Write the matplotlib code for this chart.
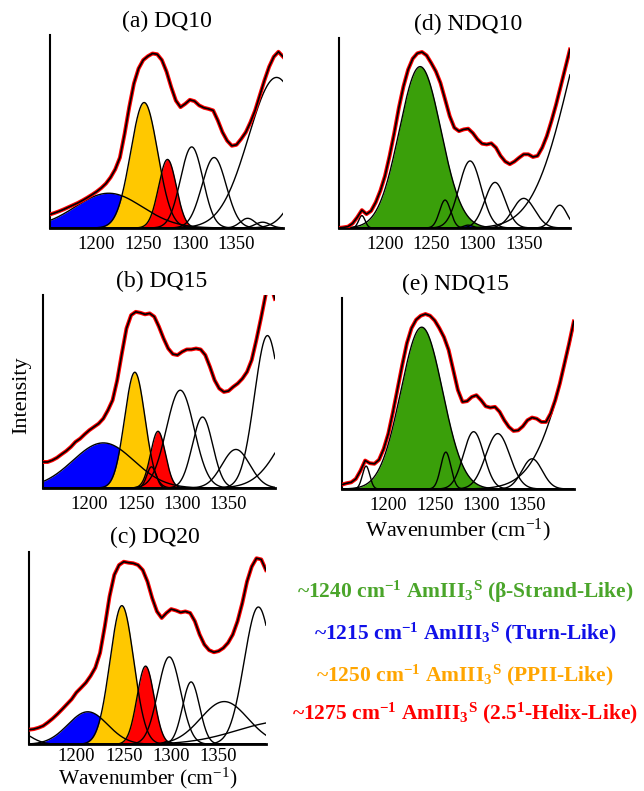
import numpy as np
import matplotlib
matplotlib.use("Agg")
import matplotlib.pyplot as plt

plt.rcParams['font.family'] = ['Liberation Serif', 'DejaVu Serif']
plt.rcParams['mathtext.fontset'] = 'custom'
plt.rcParams['mathtext.rm'] = 'Liberation Serif'
plt.rcParams['mathtext.it'] = 'Liberation Serif:italic'
plt.rcParams['mathtext.bf'] = 'Liberation Serif:bold'

# wavenumber grid the measured / fitted spectra were read at (every 5 cm-1)
wn = np.arange(1150, 1401, 5)

# fitted envelopes (normalised intensity)
fit_a = [0.07, 0.078, 0.087, 0.097, 0.108, 0.119, 0.13, 0.143, 0.157, 0.172, 0.188, 0.207,
         0.23, 0.262, 0.304, 0.365, 0.487, 0.626, 0.748, 0.826, 0.87, 0.89, 0.904, 0.90,
         0.87, 0.81, 0.73, 0.66, 0.626, 0.643, 0.664, 0.657, 0.635, 0.623, 0.617, 0.609,
         0.557, 0.496, 0.452, 0.426, 0.431, 0.461, 0.496, 0.548, 0.609, 0.687, 0.765,
         0.835, 0.887, 0.913, 0.887]
fit_b = [0.135, 0.135, 0.144, 0.157, 0.175, 0.192, 0.213, 0.239, 0.256, 0.279, 0.30, 0.317,
         0.334, 0.36, 0.403, 0.455, 0.559, 0.697, 0.827, 0.896, 0.913, 0.908, 0.90, 0.905,
         0.888, 0.836, 0.775, 0.723, 0.694, 0.689, 0.706, 0.718, 0.718, 0.723, 0.718,
         0.689, 0.628, 0.559, 0.516, 0.498, 0.503, 0.524, 0.542, 0.567, 0.602, 0.663,
         0.766, 0.879, 1.0, 1.06, 0.98]
fit_c = [0.076, 0.079, 0.086, 0.096, 0.114, 0.134, 0.157, 0.182, 0.208, 0.234, 0.269, 0.294,
         0.32, 0.355, 0.398, 0.475, 0.613, 0.768, 0.88, 0.931, 0.948, 0.943, 0.94, 0.931,
         0.905, 0.845, 0.759, 0.69, 0.656, 0.682, 0.702, 0.695, 0.685, 0.69, 0.682, 0.639,
         0.57, 0.518, 0.489, 0.478, 0.484, 0.50, 0.527, 0.57, 0.639, 0.733, 0.845, 0.923,
         0.966, 0.96, 0.905]
fit_d = [0.0, 0.003, 0.007, 0.024, 0.056, 0.094, 0.073, 0.09, 0.135, 0.196, 0.274, 0.38,
         0.50, 0.633, 0.746, 0.834, 0.892, 0.92, 0.927, 0.909, 0.869, 0.825, 0.764, 0.677,
         0.589, 0.528, 0.51, 0.519, 0.523, 0.50, 0.467, 0.444, 0.44, 0.446, 0.423, 0.38,
         0.35, 0.336, 0.35, 0.37, 0.388, 0.388, 0.374, 0.38, 0.423, 0.484, 0.563, 0.65,
         0.746, 0.843, 0.94]
fit_e = [0.023, 0.03, 0.035, 0.053, 0.096, 0.149, 0.135, 0.132, 0.153, 0.21, 0.29, 0.403,
         0.526, 0.649, 0.763, 0.842, 0.886, 0.907, 0.916, 0.907, 0.882, 0.842, 0.795, 0.728,
         0.623, 0.518, 0.456, 0.46, 0.482, 0.491, 0.465, 0.433, 0.426, 0.43, 0.404, 0.36,
         0.325, 0.304, 0.307, 0.328, 0.36, 0.374, 0.368, 0.351, 0.351, 0.395, 0.465, 0.553,
         0.658, 0.763, 0.877]

# fitted component bands: (centre cm-1, height, sigma cm-1, fill colour or None)
BLUE, GOLD, RED, GREEN = '#0000ff', '#ffc800', '#ff0000', '#3a9f0a'
bands_a = [(1213, 0.18, 36, BLUE), (1251, 0.65, 14.5, GOLD), (1276, 0.355, 9.5, RED),
           (1302, 0.42, 12, None), (1326, 0.365, 13, None), (1362, 0.05, 8, None),
           (1378, 0.03, 8, None), (1393, 0.78, 30, None), (1435, 0.35, 20, None)]
bands_b = [(1215, 0.234, 33, BLUE), (1249, 0.60, 11, GOLD), (1274, 0.294, 8, RED),
           (1267, 0.11, 5, None), (1298, 0.507, 15, None), (1322, 0.368, 11, None),
           (1358, 0.20, 15, None), (1392, 0.79, 14, None), (1440, 0.44, 30, None)]
bands_c = [(1135, 0.074, 15, None), (1212, 0.169, 21, BLUE), (1248, 0.72, 12.5, GOLD),
           (1273, 0.406, 9, RED), (1296, 0.015, 4, GOLD), (1298, 0.454, 12, None),
           (1321, 0.324, 9, None), (1356, 0.222, 25, None), (1392, 0.713, 15, None),
           (1420, 0.12, 50, None)]
bands_d = [(1175, 0.065, 3.5, None), (1238, 0.85, 22.5, GREEN), (1265, 0.147, 6, None),
           (1290, 0.015, 5, BLUE), (1292, 0.353, 12, None), (1319, 0.24, 11, None),
           (1350, 0.156, 12, None), (1389, 0.12, 8, None), (1440, 1.33, 40, None)]
bands_e = [(1176, 0.12, 4, None), (1236, 0.847, 22.5, GREEN), (1262, 0.193, 5.5, None),
           (1292, 0.30, 11, None), (1318, 0.29, 13, None), (1355, 0.158, 11, None),
           (1440, 1.41, 40, None)]

titles = ['(a) DQ10', '(b) DQ15', '(c) DQ20', '(d) NDQ10', '(e) NDQ15']
title_x = [0.5, 0.51, 0.53, 0.56, 0.49]
fits = [fit_a, fit_b, fit_c, fit_d, fit_e]
bands = [bands_a, bands_b, bands_c, bands_d, bands_e]
# axes boxes [left, bottom, width, height] in figure fraction
boxes = [[0.0776, 0.7118, 0.362, 0.244],
         [0.0668, 0.383, 0.360, 0.244],
         [0.045, 0.059, 0.368, 0.2435],
         [0.526, 0.7118, 0.359, 0.240],
         [0.531, 0.3818, 0.360, 0.2415]]
tick_pad = [6, 6, 3, 6, 6]
xlabel_on = [False, False, True, False, True]

legend_lines = [
    (r'~1240 cm$^{\mathbf{-1}}$ AmIII$_{\mathbf{3}}$$^{\mathbf{S}}$ (β-Strand-Like)', '#4aa52a'),
    (r'~1215 cm$^{\mathbf{-1}}$ AmIII$_{\mathbf{3}}$$^{\mathbf{S}}$ (Turn-Like)', '#1010e8'),
    (r'~1250 cm$^{\mathbf{-1}}$ AmIII$_{\mathbf{3}}$$^{\mathbf{S}}$ (PPII-Like)', '#ffa500'),
    (r'~1275 cm$^{\mathbf{-1}}$ AmIII$_{\mathbf{3}}$$^{\mathbf{S}}$ (2.5$^{\mathbf{1}}$-Helix-Like)', '#ff0000'),
]
legend_y = [0.2516, 0.1997, 0.1466, 0.0986]


def gauss(x, c, h, s):
    return h * np.exp(-(x - c) ** 2 / (2 * s ** 2))


fig = plt.figure(figsize=(6.44, 7.91), dpi=100)
x = np.linspace(1150, 1400, 600)

for i, (title, fit, bl, box) in enumerate(zip(titles, fits, bands, boxes)):
    ax = fig.add_axes(box)
    # coloured bands first, later ones on top
    for c, h, s, col in bl:
        if col is not None:
            ax.fill_between(x, 0, gauss(x, c, h, s), color=col, lw=0, zorder=1)
    for c, h, s, col in bl:
        ax.plot(x, gauss(x, c, h, s), color='black', lw=1.0, zorder=2)
    ax.plot(wn, fit, color='red', lw=2.8, zorder=3, solid_joinstyle='round')
    ax.plot(wn, fit, color='black', lw=1.2, zorder=4)

    ax.set_xlim(1150, 1400)
    ax.set_ylim(0, 1)
    ax.set_xticks([1200, 1250, 1300, 1350])
    ax.set_yticks([])
    ax.tick_params(axis='x', length=0, pad=tick_pad[i], labelsize=13.5)
    for side in ['top', 'right']:
        ax.spines[side].set_visible(False)
    ax.spines['bottom'].set_linewidth(2.0)
    ax.spines['left'].set_linewidth(1.5)
    ax.set_title(title, fontsize=17, pad=6, x=title_x[i])
    if xlabel_on[i]:
        ax.set_xlabel('Wavenumber (cm$^{-1}$)', fontsize=16 if i == 4 else 15.5,
                      labelpad=2 if i == 4 else 0)

fig.text(0.034, 0.50, 'Intensity', rotation=90, fontsize=16, ha='center', va='center')

for (txt, col), y in zip(legend_lines, legend_y):
    fig.text(0.722, y, txt, color=col, fontsize=15.5, fontweight='bold',
             ha='center', va='center')

fig.savefig('out.png', dpi=100)
